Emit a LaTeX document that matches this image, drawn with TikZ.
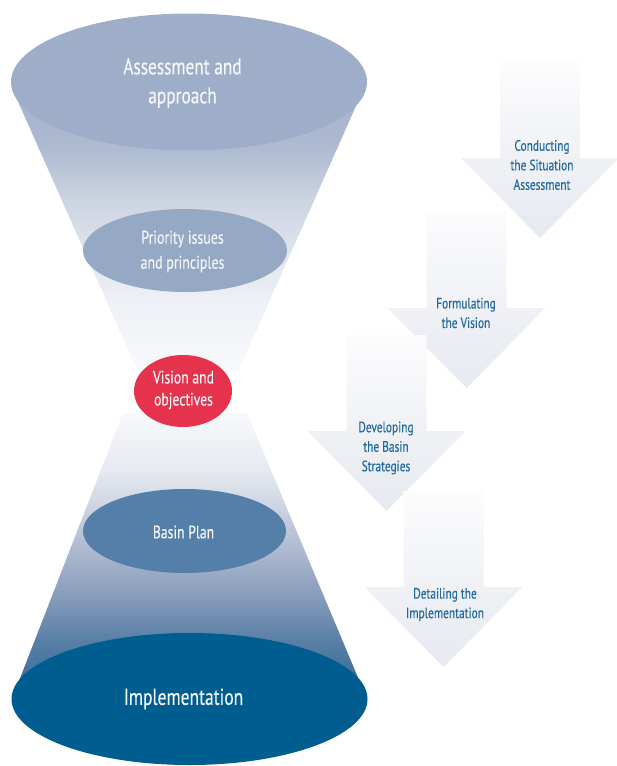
\documentclass[tikz,border=0pt]{standalone}
\usepackage{fontspec}
\setmainfont{PT Sans}[FakeStretch=0.76,FakeBold=0.3]
\usetikzlibrary{shapes.geometric}
\definecolor{topell}{HTML}{9FAEC8}
\definecolor{prioell}{HTML}{95A8C4}
\definecolor{visell}{HTML}{E5334D}
\definecolor{basinell}{HTML}{547FA8}
\definecolor{implell}{HTML}{005D8F}
\definecolor{elltext}{HTML}{F4F6F9}
\definecolor{arrtextc}{HTML}{226A9E}
% upper cone stops
\definecolor{uca}{HTML}{A5B3CC}
\definecolor{ucb}{HTML}{AEBBD1}
\definecolor{ucc}{HTML}{CDD4E2}
\definecolor{ucd}{HTML}{DEE3EC}
\definecolor{uce}{HTML}{EDF0F5}
\definecolor{ucf}{HTML}{F8F9FB}
% lower cone stops
\definecolor{lca}{HTML}{F8F9FB}
\definecolor{lcb}{HTML}{E6E9F0}
\definecolor{lcc}{HTML}{D2D8E4}
\definecolor{lcd}{HTML}{ADB9CF}
\definecolor{lce}{HTML}{8499B9}
\definecolor{lcf}{HTML}{5A7FA6}
\definecolor{lcg}{HTML}{2A6897}
% arrow stops
\definecolor{ara}{HTML}{FCFCFD}
\definecolor{arb}{HTML}{EFF1F5}
\definecolor{arc}{HTML}{E6E9F0}
\pgfdeclareverticalshading{uppercone}{100bp}{color(0bp)=(ucf); color(25bp)=(ucf); color(38.1bp)=(uce); color(47.2bp)=(ucd); color(56.3bp)=(ucc); color(65.4bp)=(ucb); color(75bp)=(uca); color(100bp)=(uca)}
\pgfdeclareverticalshading{lowercone}{100bp}{color(0bp)=(lcg); color(25bp)=(lcg); color(35.3bp)=(lcf); color(42.3bp)=(lce); color(51bp)=(lcd); color(59.8bp)=(lcc); color(65bp)=(lcb); color(75bp)=(lca); color(100bp)=(lca)}
\pgfdeclareverticalshading{arrowshade}{100bp}{color(0bp)=(arc); color(25bp)=(arc); color(47.7bp)=(arb); color(75bp)=(ara); color(100bp)=(ara)}
\begin{document}
\begin{tikzpicture}[x=1pt,y=-1pt,
  ell/.style={ellipse, draw=none, inner sep=0pt},
  elltxt/.style={align=center, text=elltext, inner sep=0pt},
  arrtext/.style={align=center, text=arrtextc, font=\fontsize{15}{19.5}\selectfont, inner sep=0pt}]
\useasboundingbox (0,0) rectangle (617,766);
\fill[white] (0,0) rectangle (617,766);
% flow arrows
\foreach \cx/\ty in {540/62, 466.5/212, 386.5/335, 443.5/491} {
  \shade[shading=arrowshade] (\cx-40,\ty) -- (\cx+40,\ty) -- (\cx+40,\ty+96) -- (\cx+79,\ty+96)
     -- (\cx,\ty+176) -- (\cx-79,\ty+96) -- (\cx-40,\ty+96) -- cycle;
}
% cones
\shade[shading=uppercone] (16,97) -- (360,97) -- (238,372) -- (138,372) -- cycle;
\shade[shading=lowercone] (123,413) -- (247,413) -- (367,699) -- (12,699) -- cycle;
% ellipses
\node[ell, fill=topell, minimum width=356pt, minimum height=137pt] (assess) at (189,82) {};
\node[ell, fill=prioell, minimum width=204pt, minimum height=83pt] (prio) at (185,250.5) {};
\node[ell, fill=visell, minimum width=98pt, minimum height=72pt] (vision) at (183,391) {};
\node[ell, fill=basinell, minimum width=203pt, minimum height=84pt] (basin) at (184.5,531) {};
\node[ell, fill=implell, minimum width=356pt, minimum height=132pt] (impl) at (189.5,699) {};
% ellipse labels
\node[elltxt, font=\fontsize{22.8}{29}\selectfont] (assesst) at (182.5,83) {Assessment and\\approach};
\node[elltxt, font=\fontsize{18.3}{25}\selectfont] (priot) at (182.5,251.5) {Priority issues\\and principles};
\node[elltxt, font=\fontsize{18}{22}\selectfont] (visiont) at (183.5,390) {Vision and\\objectives};
\node[elltxt, font=\fontsize{18}{22}\selectfont] (basint) at (183.5,532) {Basin Plan};
\node[elltxt, font=\fontsize{23}{28}\selectfont] (implt) at (183.5,699) {Implementation};
% arrow labels
\node[arrtext] (a1) at (542,165) {Conducting\\the Situation\\Assessment};
\node[arrtext] (a2) at (466,313) {Formulating\\the Vision};
\node[arrtext] (a3) at (386,448) {Developing\\the Basin\\Strategies};
\node[arrtext] (a4) at (445,604.5) {Detailing the\\Implementation};
\end{tikzpicture}
\end{document}
